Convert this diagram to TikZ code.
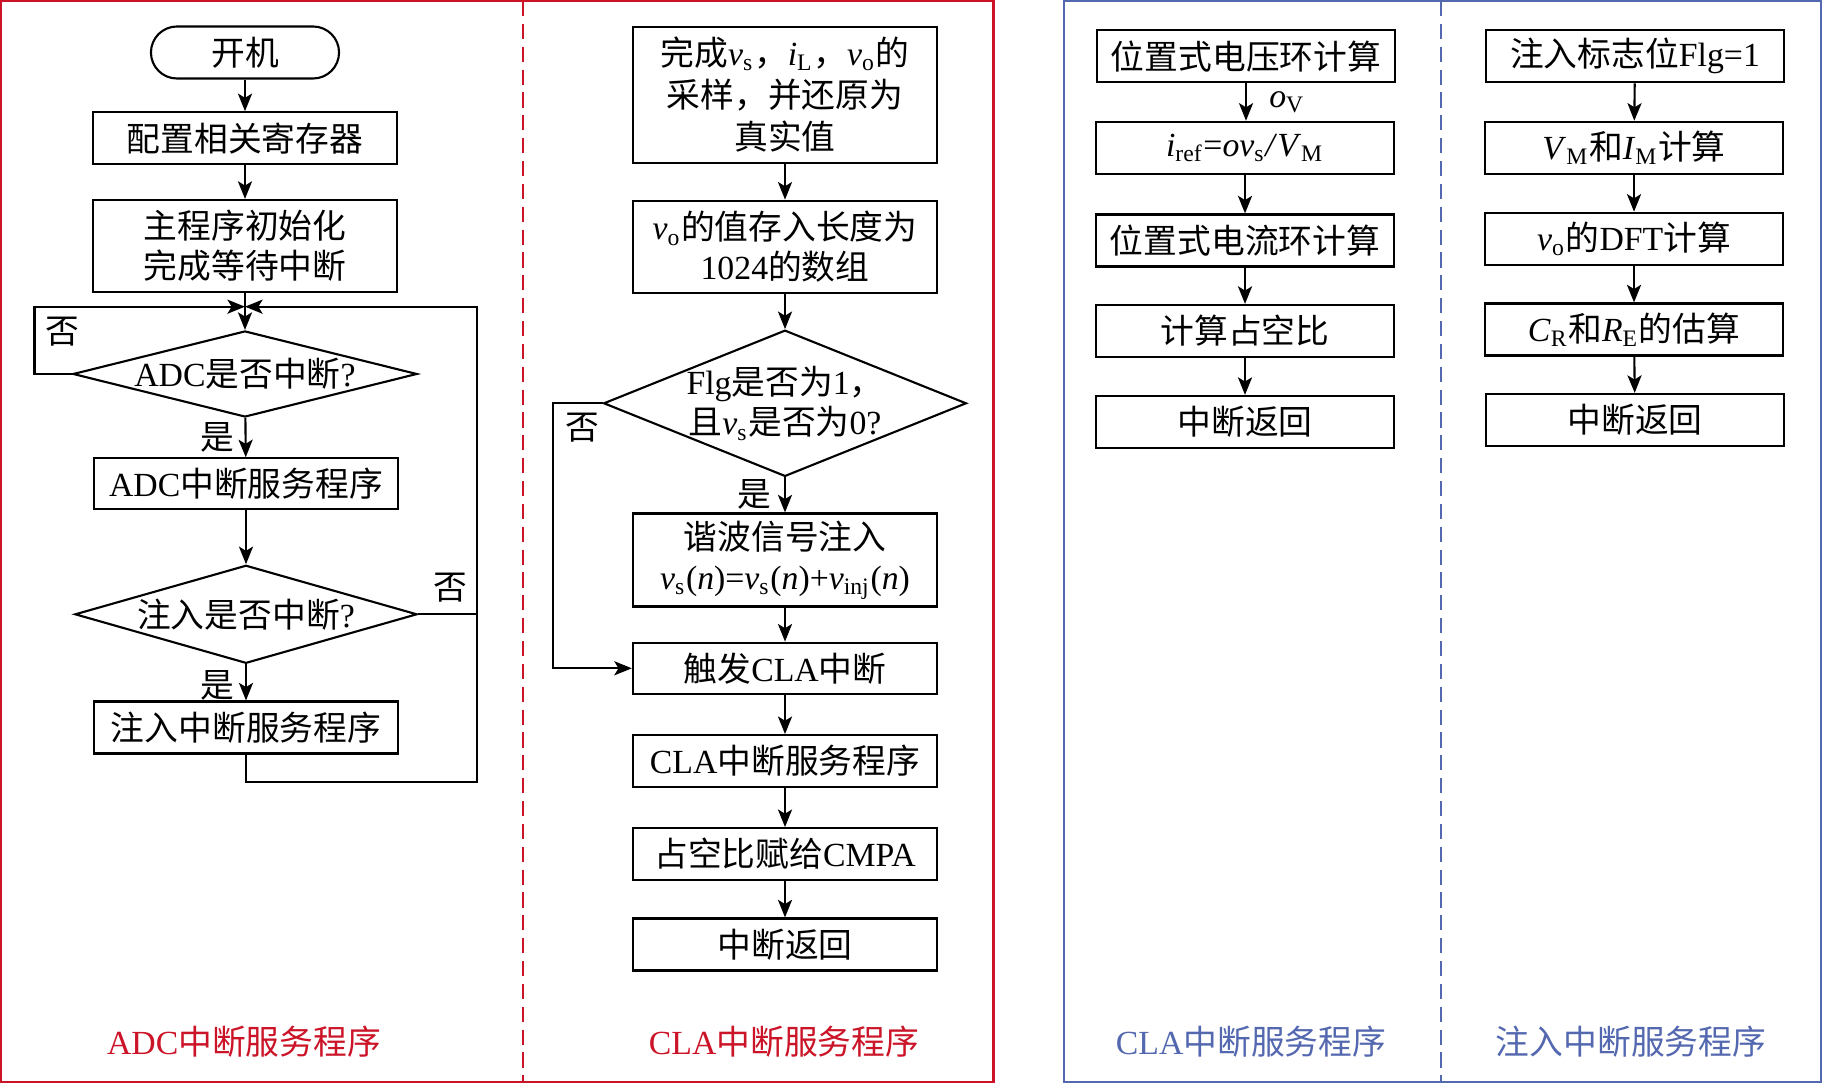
\documentclass[tikz,border=0pt]{standalone}
\usepackage{fontspec}
\setmainfont{Liberation Serif}
\newfontfamily\cjk{Noto Sans CJK SC}
\usetikzlibrary{shapes.geometric,arrows.meta}
\newcommand{\zh}[1]{{\cjk #1}}
\newcommand{\vv}[2]{\textit{#1}\textsubscript{#2}}
\definecolor{panelred}{RGB}{204,20,40}
\definecolor{panelblue}{RGB}{84,104,176}

\begin{document}
\begin{tikzpicture}[x=0.01cm, y=-0.01cm,
    font=\fontsize{9.6}{11.4}\selectfont,
    box/.style={draw, line width=0.6pt, minimum width=3.04cm, minimum height=0.52cm, inner sep=0pt, align=center},
    sbox/.style={box, minimum width=2.97cm},
    decide/.style={diamond, draw, line width=0.6pt, align=center, inner xsep=0pt, inner ysep=-1pt},
    arr/.style={line width=0.6pt, -{Stealth[length=5pt, width=4pt, inset=1.2pt]}},
    conn/.style={line width=0.6pt}]

    \useasboundingbox (0,0) rectangle (1822,1083);

    %Frames
    \draw[panelred, line width=0.8pt] (1,1) rectangle (993.5,1082);
    \draw[panelred, line width=0.8pt, dash pattern=on 4.3pt off 2.2pt] (523,1) -- (523,1082);
    \draw[panelblue, line width=0.8pt] (1064,1) rectangle (1821,1082);
    \draw[panelblue, line width=0.8pt, dash pattern=on 4.3pt off 2.2pt] (1441,1) -- (1441,1082);

    %ADC panel
    \node[draw, line width=0.6pt, rounded corners=0.26cm, minimum width=1.88cm, minimum height=0.52cm, inner sep=0pt] (start) at (245,52.5) {\zh{开机}};
    \node[box] (cfg) at (245,138.3) {\zh{配置相关寄存器}};
    \node[box, minimum height=0.92cm] (init) at (245,246) {\zh{主程序初始化}\\\zh{完成等待中断}};
    \node[decide, aspect=4, minimum width=3.44cm, minimum height=0.86cm] (adcq) at (245,374) {ADC\zh{是否中断}?};
    \node[box, minimum height=0.507cm] (adcsrv) at (246,483.7) {ADC\zh{中断服务程序}};
    \node[decide, aspect=3.5, minimum width=3.42cm, minimum height=0.98cm] (injq) at (246,614.3) {\zh{注入是否中断}?};
    \node[box] (injsrv) at (246,727.5) {\zh{注入中断服务程序}};

    \coordinate (merge) at (245,306.7);
    \coordinate (lft) at (34.5,306.7);
    \coordinate (rgt) at (477,306.7);
    \coordinate (btm) at (477,781.7);

    \draw[arr] (start) -- (cfg);
    \draw[arr] (cfg) -- (init);
    \draw[arr] (init) -- (adcq);
    \draw[arr] (adcq) -- (adcsrv);
    \draw[arr] (adcsrv) -- (injq);
    \draw[arr] (injq) -- (injsrv);
    \draw[arr] (adcq.west) -| (lft) -- (merge);
    \draw[arr] (injsrv.south) |- (btm) -- (rgt) -- (merge);
    \draw[conn] (injq.east) -- (injq.east -| btm);

    \node (no1) at (62.5,331.5) {\zh{否}};
    \node (yes1) at (217,437.5) {\zh{是}};
    \node (no2) at (450,587.5) {\zh{否}};
    \node (yes2) at (217,685) {\zh{是}};

    %CLA panel
    \node[box, minimum height=1.36cm, font=\fontsize{9.6}{12}\selectfont] (sample) at (785,94.7) {\zh{完成}\vv{v}{s}\zh{，}\vv{i}{L}\zh{，}\vv{v}{o}\zh{的}\\\zh{采样，并还原为}\\\zh{真实值}};
    \node[box, minimum height=0.926cm] (store) at (785,247) {\vv{v}{o}\zh{的值存入长度为}\\1024\zh{的数组}};
    \node[decide, aspect=2.48, minimum width=3.6cm, minimum height=1.45cm] (flgq) at (785,403.3) {Flg\zh{是否为}1\zh{，}\\\zh{且}\vv{v}{s}\zh{是否为}0?};
    \node[box, minimum height=0.93cm] (inject) at (785,560) {\zh{谐波信号注入}\\\vv{v}{s}(\textit{n})=\vv{v}{s}(\textit{n})+\vv{v}{inj}(\textit{n})};
    \node[box, minimum height=0.513cm] (trig) at (785,668.3) {\zh{触发}CLA\zh{中断}};
    \node[box, minimum height=0.517cm] (clasrv) at (785,761) {CLA\zh{中断服务程序}};
    \node[box, minimum height=0.517cm] (cmpa) at (785,854) {\zh{占空比赋给}CMPA};
    \node[box] (ret1) at (785,944.5) {\zh{中断返回}};

    \coordinate (bend) at (553.3,403.3);

    \draw[arr] (sample) -- (store);
    \draw[arr] (store) -- (flgq);
    \draw[arr] (flgq) -- (inject);
    \draw[arr] (inject) -- (trig);
    \draw[arr] (trig) -- (clasrv);
    \draw[arr] (clasrv) -- (cmpa);
    \draw[arr] (cmpa) -- (ret1);
    \draw[arr] (flgq.west) -- (bend) |- (trig.west);

    \node (no3) at (582,428) {\zh{否}};
    \node (yes3) at (754,494) {\zh{是}};

    %CLA service routine
    \node[sbox] (vloop) at (1246,56.3) {\zh{位置式电压环计算}};
    \node[sbox] (iref) at (1245,147.8) {\vv{i}{ref}=\textit{o}\vv{v}{s}\textit{/}\vv{V}{M}};
    \node[sbox] (iloop) at (1245,240.5) {\zh{位置式电流环计算}};
    \node[sbox] (duty) at (1245,331) {\zh{计算占空比}};
    \node[sbox] (ret2) at (1245,422) {\zh{中断返回}};

    \draw[arr] (vloop) -- node[right=3pt] (ov) {\vv{o}{V}} (vloop |- iref.north);
    \draw[arr] (iref) -- (iloop);
    \draw[arr] (iloop) -- (duty);
    \draw[arr] (duty) -- (ret2);

    %Injection service routine
    \node[sbox] (flg) at (1635,56.3) {\zh{注入标志位}Flg=1};
    \node[sbox] (vmim) at (1634,147.8) {\vv{V}{M}\zh{和}\vv{I}{M}\zh{计算}};
    \node[sbox] (dft) at (1634,238.8) {\vv{v}{o}\zh{的}DFT\zh{计算}};
    \node[sbox] (est) at (1634,329.5) {\vv{C}{R}\zh{和}\vv{R}{E}\zh{的估算}};
    \node[sbox] (ret3) at (1635,420) {\zh{中断返回}};

    \draw[arr] (flg) -- (vmim);
    \draw[arr] (vmim) -- (dft);
    \draw[arr] (dft) -- (est);
    \draw[arr] (est) -- (ret3);

    %Panel titles
    \node[text=panelred] (t1) at (244,1041.7) {ADC\zh{中断服务程序}};
    \node[text=panelred] (t2) at (784,1041.7) {CLA\zh{中断服务程序}};
    \node[text=panelblue] (t3) at (1251,1041.7) {CLA\zh{中断服务程序}};
    \node[text=panelblue] (t4) at (1631,1041.7) {\zh{注入中断服务程序}};

\end{tikzpicture}
\end{document}
